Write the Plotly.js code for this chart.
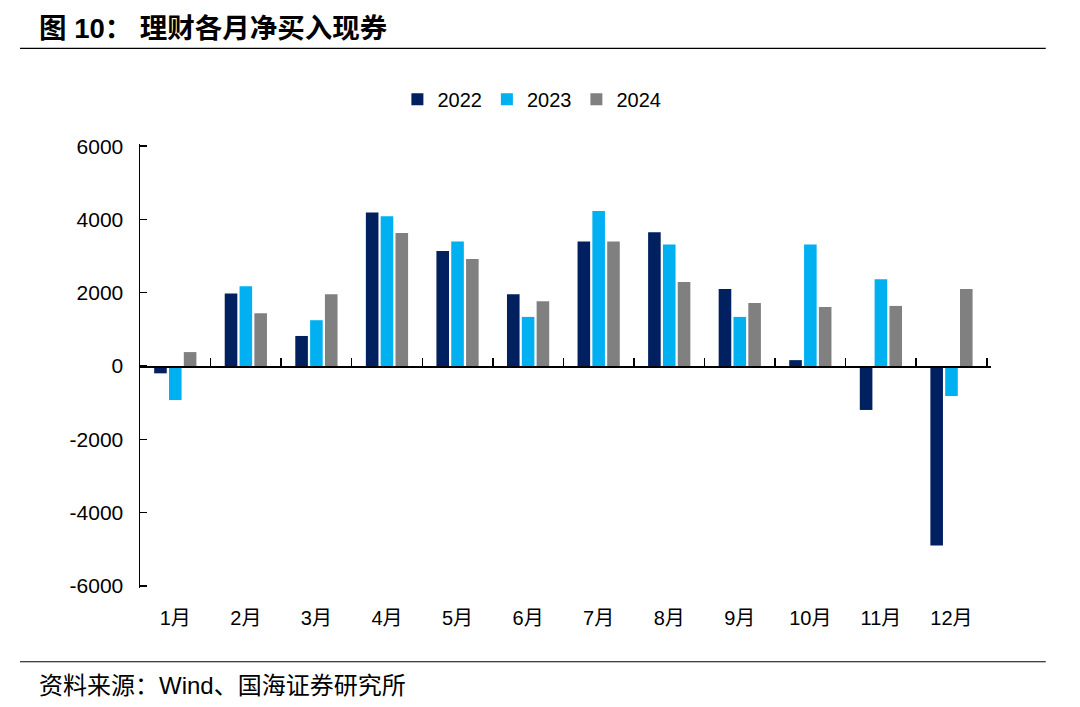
<!DOCTYPE html>
<html>
<head>
<meta charset="utf-8">
<script src="https://cdn.plot.ly/plotly-3.0.1.min.js"></script>
<style>html,body{margin:0;padding:0;background:#fff;}#chart{width:1080px;height:707px;}</style>
</head>
<body>
<div id="chart"></div>
<script>
const months = ["1月","2月","3月","4月","5月","6月","7月","8月","9月","10月","11月","12月"];
const s2022 = [-200, 1980, 820, 4190, 3140, 1960, 3400, 3650, 2100, 160, -1200, -4900];
const s2023 = [-930, 2180, 1250, 4090, 3400, 1340, 4230, 3320, 1340, 3320, 2370, -820];
const s2024 = [380, 1440, 1960, 3630, 2920, 1770, 3400, 2290, 1720, 1610, 1640, 2100];
const yTicks = [-6000, -4000, -2000, 0, 2000, 4000, 6000];

const FONT = "Liberation Sans, Arial, Noto Sans CJK SC, sans-serif";

// plot frame: small padding beyond the end ticks so Plotly keeps the end tick marks
const W = 1080, Hgt = 707;
const xPad = 0.06, yPad = 60;
const catPx = 847 / 12, yPx = 440 / 12000;
const L = 140, R = W - 987 - xPad * catPx;
const T = 146 - yPad * yPx, B = Hgt - 586 - yPad * yPx;
const PW = W - L - R, PH = Hgt - T - B;
const px = v => (v - L) / PW;
const py = v => (Hgt - B - v) / PH;

const traces = [
  {type:"bar", name:"2022", x:months, y:s2022, marker:{color:"#002060"}},
  {type:"bar", name:"2023", x:months, y:s2023, marker:{color:"#00B0F0"}},
  {type:"bar", name:"2024", x:months, y:s2024, marker:{color:"#808080"}}
];

const layout = {
  width:W, height:Hgt,
  margin:{l:L, r:R, t:T, b:B},
  paper_bgcolor:"#fff", plot_bgcolor:"#fff",
  font:{family:FONT, color:"#000", size:20},
  barmode:"group", bargap:0.37, bargroupgap:0.15,
  showlegend:true,
  legend:{orientation:"h", x:px(532), xanchor:"center", y:py(99), yanchor:"middle",
          font:{size:20, family:FONT}, itemwidth:30, traceorder:"normal"},
  xaxis:{type:"category", anchor:"free", position:0.5, range:[-0.5, months.length - 0.5 + xPad],
         showline:true, linecolor:"#000", linewidth:1.5,
         tickson:"boundaries", ticks:"inside", ticklen:8, tickwidth:1.5, tickcolor:"#000",
         showgrid:false, zeroline:false,
         tickfont:{size:20, family:FONT}, ticklabelstandoff:233},
  yaxis:{range:[-6000 - yPad, 6000 + yPad], tickvals:yTicks, ticktext:yTicks.map(String),
         showline:true, linecolor:"#000", linewidth:1.5,
         ticks:"inside", ticklen:7, tickwidth:1.5, tickcolor:"#000", showgrid:false,
         zeroline:false,
         tickfont:{size:21, family:FONT}, ticklabelstandoff:11},
  shapes:[
    {type:"line", xref:"paper", yref:"paper", x0:px(20), x1:px(1046), y0:py(48), y1:py(48), line:{color:"#000", width:1.2}},
    {type:"line", xref:"paper", yref:"paper", x0:px(20), x1:px(1046), y0:py(662), y1:py(662), line:{color:"#000", width:1.2}}
  ],
  annotations:[
    {xref:"paper", yref:"paper", x:px(37), y:py(28), xanchor:"left", yanchor:"middle", showarrow:false,
     text:"<b>图 10： 理财各月净买入现券</b>", font:{size:27.5, family:FONT, color:"#000"}},
    {xref:"paper", yref:"paper", x:px(37), y:py(686), xanchor:"left", yanchor:"middle", showarrow:false,
     text:"资料来源：Wind、国海证券研究所", font:{size:24, family:FONT, color:"#000"}}
  ]
};

Plotly.newPlot("chart", traces, layout, {displayModeBar:false, staticPlot:true});
</script>
</body>
</html>
